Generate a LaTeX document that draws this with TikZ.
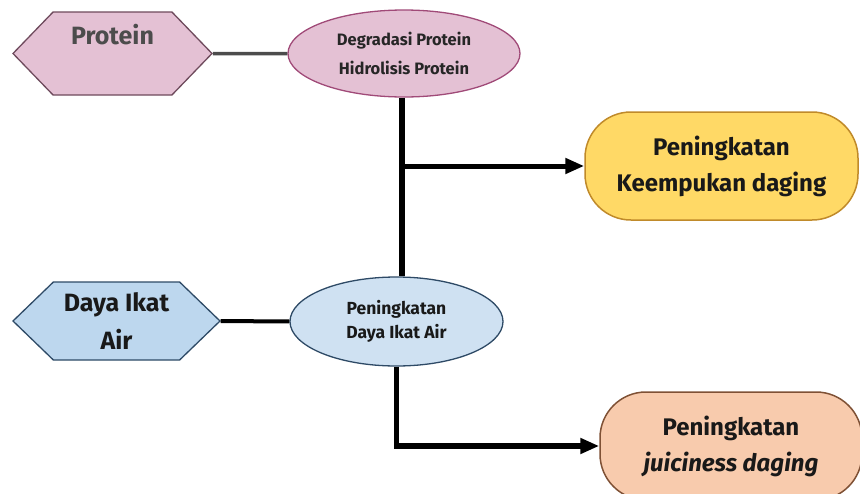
\documentclass[tikz,border=0pt]{standalone}
\usepackage{fontspec}
\setmainfont{Fira Sans}
\usepackage{tikz}
\usetikzlibrary{shapes,arrows.meta,positioning}

\definecolor{protfill}{HTML}{E4C1D4}
\definecolor{protline}{HTML}{6E4A5C}
\definecolor{degrline}{HTML}{A04A78}
\definecolor{blufill}{HTML}{BDD7EE}
\definecolor{bluline}{HTML}{2E4A66}
\definecolor{diafill}{HTML}{CFE1F2}
\definecolor{goldfill}{HTML}{FFD966}
\definecolor{goldline}{HTML}{C08A2A}
\definecolor{peachfill}{HTML}{F8CBAD}
\definecolor{peachline}{HTML}{7F5135}

\begin{document}
\begin{tikzpicture}[x=1pt,y=-1pt]
			\tikzstyle{Hexa}	= [signal, signal to=west and east, draw, line width=1.3pt, inner sep=0pt, align=center, font=\bfseries\fontsize{25}{38}\selectfont]
			\tikzstyle{Oval}	= [ellipse, draw, line width=1.3pt, inner sep=0pt, align=center]
			\tikzstyle{Result}	= [rectangle, rounded corners=46pt, draw, line width=1.5pt, inner sep=0pt, align=center, text=black!90, font=\bfseries\fontsize{24}{36}\selectfont]
			\tikzstyle{Conn}	= [line width=5.5pt, black]
			\tikzstyle{Tip}		= [-{Triangle[length=19pt,width=15pt]}]
			
			\useasboundingbox (0, 0) rectangle (860, 493);
			
			\node (prot) at (112.5, 53.5) [Hexa, fill=protfill, draw=protline, text=black!70, minimum width=199pt, minimum height=83pt, signal pointer angle=92] {Protein\\ \mbox{}};
			\node (degr) at (404, 53.5) [Oval, fill=protfill, draw=degrline, minimum width=232pt, minimum height=87pt, text=black!85, font=\bfseries\fontsize{16.5}{29}\selectfont] {Degradasi Protein\\Hidrolisis Protein};
			\node (keem) at (721.5, 166) [Result, fill=goldfill, draw=goldline, minimum width=273pt, minimum height=108pt] {Peningkatan\\Keempukan daging};
			
			\node (daya) at (116.5, 321) [Hexa, fill=blufill, draw=bluline, text=black!90, minimum width=207pt, minimum height=78pt, signal pointer angle=88] {Daya Ikat\\Air};
			\node (dia) at (396.5, 321.5) [Oval, fill=diafill, draw=bluline, minimum width=213pt, minimum height=89pt, text=black!90, font=\bfseries\fontsize{17.5}{24}\selectfont] {Peningkatan\\Daya Ikat Air};
			\node (juic) at (731, 446) [Result, fill=peachfill, draw=peachline, minimum width=262pt, minimum height=108pt] {Peningkatan\\\textit{juiciness daging}};
			
			\coordinate (j1) at ([xshift=-2pt]degr.south |- keem.west);
			
			\draw [-] (prot) to (degr) [line width=3.5pt, black!70];
			\draw [-] (daya) to (dia) [line width=4pt];
			\draw [-] ([xshift=-2pt]degr.south) to ([xshift=-2pt]degr.south |- dia.north) [Conn];
			\draw [Tip] (j1) to (keem.west) [Conn, line width=5pt];
			\draw [Tip] (dia.south) |- (juic.west) [Conn];
		\end{tikzpicture}
\end{document}
